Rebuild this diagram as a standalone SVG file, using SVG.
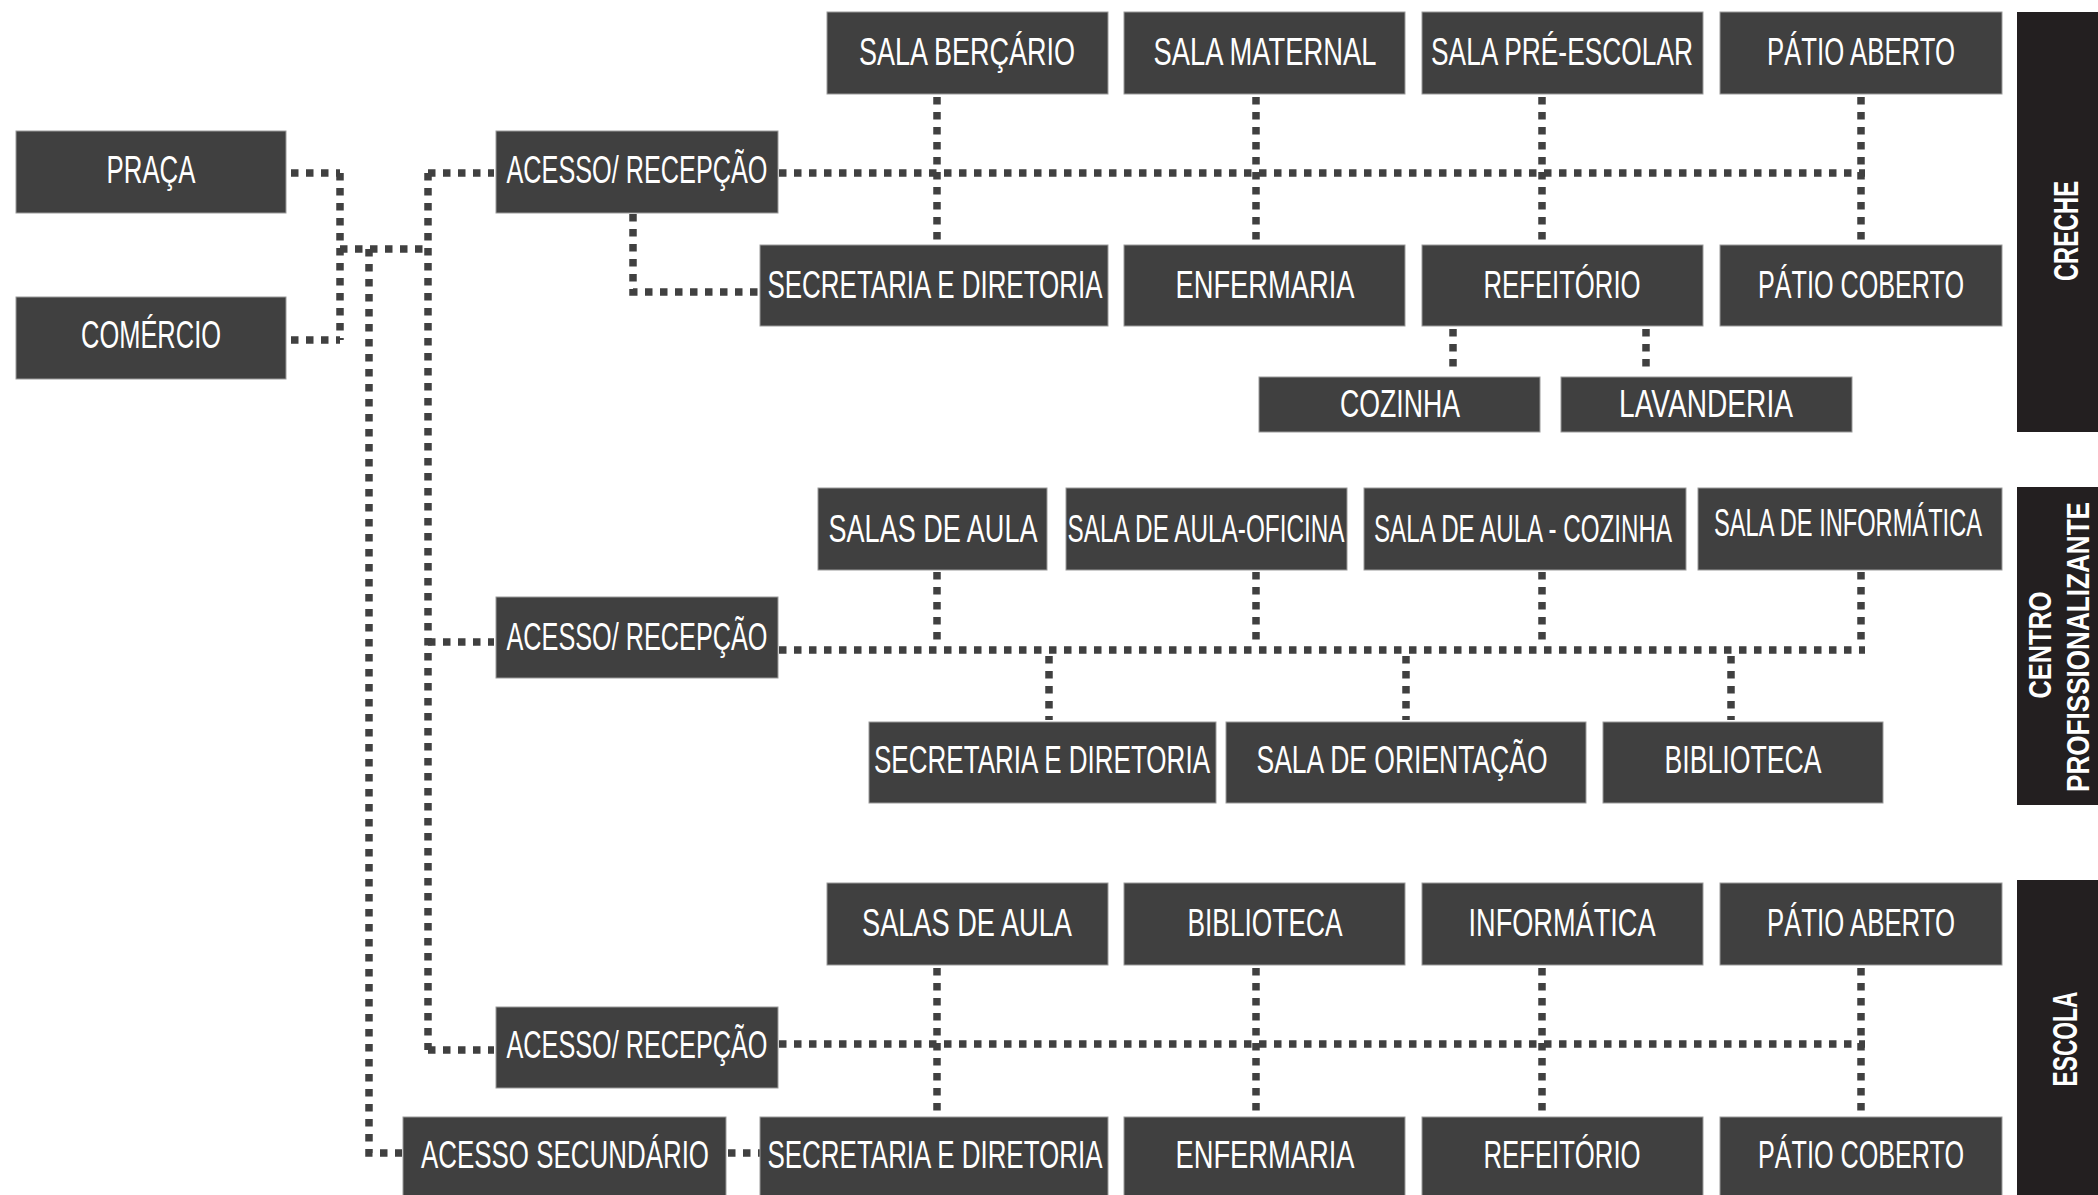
<svg xmlns="http://www.w3.org/2000/svg" width="2098" height="1195" viewBox="0 0 2098 1195">
<style>
.box{fill:#404040;stroke:#9a9a9a;stroke-width:1}
.lbl{fill:#ffffff;font-family:"Liberation Sans Narrow","Liberation Sans",Arial,sans-serif;font-size:39px;text-anchor:middle}
.bar{fill:#231f20}
.vlbl{fill:#ffffff;font-family:"Liberation Sans","DejaVu Sans",sans-serif;font-weight:bold;text-anchor:middle}
.conn path{fill:none;stroke:#404040;stroke-width:7.5;stroke-dasharray:7.5 7.5}
</style>
<rect width="2098" height="1195" fill="#ffffff"/>
<g class="conn" id="connectors">
<path d="M291 173H340"/>
<path d="M291 340H340"/>
<path d="M340 173V340"/>
<path d="M340 249H428"/>
<path d="M428 173V1050"/>
<path d="M428 173H494"/>
<path d="M428 642H494"/>
<path d="M428 1050H494"/>
<path d="M369 249V1153H402"/>
<path d="M728 1153H760"/>
<path d="M633 214V292H760"/>
<path d="M779 173H1865"/>
<path d="M937 97V241"/>
<path d="M1256 97V241"/>
<path d="M1542 97V241"/>
<path d="M1861 97V241"/>
<path d="M1453 329V372"/>
<path d="M1646 329V372"/>
<path d="M779 650H1865"/>
<path d="M937 572V646"/>
<path d="M1256 572V646"/>
<path d="M1542 572V646"/>
<path d="M1861 572V646"/>
<path d="M1049 656V720"/>
<path d="M1406 656V720"/>
<path d="M1731 656V720"/>
<path d="M779 1044H1865"/>
<path d="M937 968V1112"/>
<path d="M1256 968V1112"/>
<path d="M1542 968V1112"/>
<path d="M1861 968V1112"/>
</g>
<g id="praca"><rect class="box" x="16" y="131" width="270" height="82"/><text class="lbl" x="151" y="183" textLength="89" lengthAdjust="spacingAndGlyphs">PRAÇA</text></g>
<g id="comercio"><rect class="box" x="16" y="297" width="270" height="82"/><text class="lbl" x="151" y="348" textLength="140" lengthAdjust="spacingAndGlyphs">COMÉRCIO</text></g>
<g id="creche-acesso"><rect class="box" x="496" y="131" width="282" height="82"/><text class="lbl" x="637" y="183" textLength="261" lengthAdjust="spacingAndGlyphs">ACESSO/ RECEPÇÃO</text></g>
<g id="creche-bercario"><rect class="box" x="827" y="12" width="281" height="82"/><text class="lbl" x="967" y="65" textLength="216" lengthAdjust="spacingAndGlyphs">SALA BERÇÁRIO</text></g>
<g id="creche-maternal"><rect class="box" x="1124" y="12" width="281" height="82"/><text class="lbl" x="1265" y="65" textLength="223" lengthAdjust="spacingAndGlyphs">SALA MATERNAL</text></g>
<g id="creche-preescolar"><rect class="box" x="1422" y="12" width="281" height="82"/><text class="lbl" x="1562" y="65" textLength="262" lengthAdjust="spacingAndGlyphs">SALA PRÉ-ESCOLAR</text></g>
<g id="creche-patio-aberto"><rect class="box" x="1720" y="12" width="282" height="82"/><text class="lbl" x="1861" y="65" textLength="188" lengthAdjust="spacingAndGlyphs">PÁTIO ABERTO</text></g>
<g id="creche-secretaria"><rect class="box" x="760" y="245" width="348" height="81"/><text class="lbl" x="935" y="298" textLength="335" lengthAdjust="spacingAndGlyphs">SECRETARIA E DIRETORIA</text></g>
<g id="creche-enfermaria"><rect class="box" x="1124" y="245" width="281" height="81"/><text class="lbl" x="1265" y="298" textLength="179" lengthAdjust="spacingAndGlyphs">ENFERMARIA</text></g>
<g id="creche-refeitorio"><rect class="box" x="1422" y="245" width="281" height="81"/><text class="lbl" x="1562" y="298" textLength="157" lengthAdjust="spacingAndGlyphs">REFEITÓRIO</text></g>
<g id="creche-patio-coberto"><rect class="box" x="1720" y="245" width="282" height="81"/><text class="lbl" x="1861" y="298" textLength="206" lengthAdjust="spacingAndGlyphs">PÁTIO COBERTO</text></g>
<g id="creche-cozinha"><rect class="box" x="1259" y="377" width="281" height="55"/><text class="lbl" x="1400" y="417" textLength="120" lengthAdjust="spacingAndGlyphs">COZINHA</text></g>
<g id="creche-lavanderia"><rect class="box" x="1561" y="377" width="291" height="55"/><text class="lbl" x="1706" y="417" textLength="174" lengthAdjust="spacingAndGlyphs">LAVANDERIA</text></g>
<g id="creche-bar"><rect class="bar" x="2017" y="12" width="81" height="420"/><text class="vlbl" font-size="35" transform="translate(2078,231) rotate(-90)" textLength="100" lengthAdjust="spacingAndGlyphs">CRECHE</text></g>
<g id="centro-acesso"><rect class="box" x="496" y="597" width="282" height="81"/><text class="lbl" x="637" y="650" textLength="261" lengthAdjust="spacingAndGlyphs">ACESSO/ RECEPÇÃO</text></g>
<g id="centro-salas"><rect class="box" x="818" y="488" width="229" height="82"/><text class="lbl" x="933" y="542" textLength="209" lengthAdjust="spacingAndGlyphs">SALAS DE AULA</text></g>
<g id="centro-oficina"><rect class="box" x="1066" y="488" width="281" height="82"/><text class="lbl" x="1206" y="542" textLength="277" lengthAdjust="spacingAndGlyphs">SALA DE AULA-OFICINA</text></g>
<g id="centro-cozinha"><rect class="box" x="1364" y="488" width="322" height="82"/><text class="lbl" x="1523" y="542" textLength="298" lengthAdjust="spacingAndGlyphs">SALA DE AULA - COZINHA</text></g>
<g id="centro-informatica"><rect class="box" x="1698" y="488" width="304" height="82"/><text class="lbl" x="1848" y="536" font-size="35" textLength="268" lengthAdjust="spacingAndGlyphs">SALA DE INFORMÁTICA</text></g>
<g id="centro-secretaria"><rect class="box" x="869" y="722" width="347" height="81"/><text class="lbl" x="1042" y="773" textLength="336" lengthAdjust="spacingAndGlyphs">SECRETARIA E DIRETORIA</text></g>
<g id="centro-orientacao"><rect class="box" x="1226" y="722" width="360" height="81"/><text class="lbl" x="1402" y="773" textLength="291" lengthAdjust="spacingAndGlyphs">SALA DE ORIENTAÇÃO</text></g>
<g id="centro-biblioteca"><rect class="box" x="1603" y="722" width="280" height="81"/><text class="lbl" x="1743" y="773" textLength="157" lengthAdjust="spacingAndGlyphs">BIBLIOTECA</text></g>
<g id="centro-bar"><rect class="bar" x="2017" y="487" width="81" height="318"/><text class="vlbl" font-size="32" transform="translate(2051,645) rotate(-90)" textLength="107" lengthAdjust="spacingAndGlyphs">CENTRO</text><text class="vlbl" font-size="31" transform="translate(2089,647) rotate(-90)" textLength="290" lengthAdjust="spacingAndGlyphs">PROFISSIONALIZANTE</text></g>
<g id="escola-acesso"><rect class="box" x="496" y="1007" width="282" height="81"/><text class="lbl" x="637" y="1058" textLength="261" lengthAdjust="spacingAndGlyphs">ACESSO/ RECEPÇÃO</text></g>
<g id="escola-acesso-secundario"><rect class="box" x="403" y="1117" width="323" height="82"/><text class="lbl" x="565" y="1168" textLength="288" lengthAdjust="spacingAndGlyphs">ACESSO SECUNDÁRIO</text></g>
<g id="escola-salas"><rect class="box" x="827" y="883" width="281" height="82"/><text class="lbl" x="967" y="936" textLength="210" lengthAdjust="spacingAndGlyphs">SALAS DE AULA</text></g>
<g id="escola-biblioteca"><rect class="box" x="1124" y="883" width="281" height="82"/><text class="lbl" x="1265" y="936" textLength="155" lengthAdjust="spacingAndGlyphs">BIBLIOTECA</text></g>
<g id="escola-informatica"><rect class="box" x="1422" y="883" width="281" height="82"/><text class="lbl" x="1562" y="936" textLength="187" lengthAdjust="spacingAndGlyphs">INFORMÁTICA</text></g>
<g id="escola-patio-aberto"><rect class="box" x="1720" y="883" width="282" height="82"/><text class="lbl" x="1861" y="936" textLength="188" lengthAdjust="spacingAndGlyphs">PÁTIO ABERTO</text></g>
<g id="escola-secretaria"><rect class="box" x="760" y="1117" width="348" height="82"/><text class="lbl" x="935" y="1168" textLength="335" lengthAdjust="spacingAndGlyphs">SECRETARIA E DIRETORIA</text></g>
<g id="escola-enfermaria"><rect class="box" x="1124" y="1117" width="281" height="82"/><text class="lbl" x="1265" y="1168" textLength="179" lengthAdjust="spacingAndGlyphs">ENFERMARIA</text></g>
<g id="escola-refeitorio"><rect class="box" x="1422" y="1117" width="281" height="82"/><text class="lbl" x="1562" y="1168" textLength="157" lengthAdjust="spacingAndGlyphs">REFEITÓRIO</text></g>
<g id="escola-patio-coberto"><rect class="box" x="1720" y="1117" width="282" height="82"/><text class="lbl" x="1861" y="1168" textLength="206" lengthAdjust="spacingAndGlyphs">PÁTIO COBERTO</text></g>
<g id="escola-bar"><rect class="bar" x="2017" y="880" width="81" height="315"/><text class="vlbl" font-size="35" transform="translate(2077,1039) rotate(-90)" textLength="95" lengthAdjust="spacingAndGlyphs">ESCOLA</text></g>
</svg>
